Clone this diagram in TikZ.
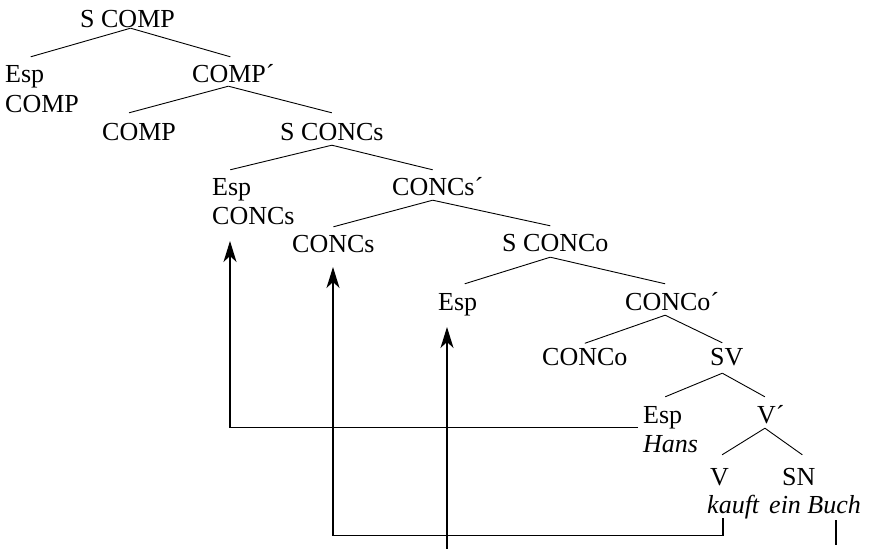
\documentclass[tikz,border=0pt]{standalone}
\usepackage{fontspec}
\setmainfont{Liberation Serif}
\usetikzlibrary{arrows.meta}
\begin{document}
\begin{tikzpicture}[x=1pt,y=-1pt,
  lbl/.style={anchor=base west, inner sep=0pt, text height=25pt, text depth=5pt,
              font=\fontsize{26}{30}\selectfont},
  word/.style={lbl, font=\fontsize{26}{30}\selectfont\itshape},
  branch/.style={line width=0.9pt},
  move/.style={line width=1.1pt, -{Stealth[length=21pt,width=13pt,inset=6pt]}},
  plain/.style={line width=1.1pt},
]
\useasboundingbox (0,0) rectangle (892,549);

% category labels
\node[lbl] (scomp)    at (80,27)   {S COMP};
\node[lbl] (espA)     at (5,82)    {Esp};
\node[lbl] (compA)    at (5,112)   {COMP};
\node[lbl] (compbar)  at (192,82)  {COMP´};
\node[lbl] (compB)    at (102,140) {COMP};
\node[lbl] (sconcs)   at (280,140) {S CONCs};
\node[lbl] (espB)     at (212,195) {Esp};
\node[lbl] (concsB)   at (212,224) {CONCs};
\node[lbl] (concsbar) at (392,195) {CONCs´};
\node[lbl] (concsC)   at (292,252) {CONCs};
\node[lbl] (sconco)   at (502,251) {S CONCo};
\node[lbl] (espC)     at (438,310) {Esp};
\node[lbl] (concobar) at (625,310) {CONCo´};
\node[lbl] (concoD)   at (542,365) {CONCo};
\node[lbl] (sv)       at (710,365) {SV};
\node[lbl] (espD)     at (643,423) {Esp};
\node[word] (hans)    at (643,452) {Hans};
\node[lbl] (vbar)     at (757,423) {V´};
\node[lbl] (v)        at (710,485) {V};
\node[lbl] (sn)       at (782,485) {SN};
\node[word] (kauft)   at (707,513) {kauft};
\node[word] (einbuch) at (769,513) {ein Buch};

% branches
\draw[branch] ([xshift=3pt,yshift=4pt]scomp.south) -- ([xshift=6pt]espA.north);
\draw[branch] ([xshift=3pt,yshift=4pt]scomp.south) -- ([xshift=-3pt]compbar.north);
\draw[branch] ([xshift=-5pt,yshift=1pt]compbar.south) -- ([xshift=-10pt,yshift=2pt]compB.north);
\draw[branch] ([xshift=-5pt,yshift=1pt]compbar.south) -- ([yshift=2pt]sconcs.north);
\draw[branch] (sconcs.south) -- ([xshift=-1.5pt]espB.north);
\draw[branch] (sconcs.south) -- ([xshift=-5pt]concsbar.north);
\draw[branch] ([xshift=-5pt]concsbar.south) -- (concsC.north);
\draw[branch] ([xshift=-5pt]concsbar.south) -- ([xshift=-5pt]sconco.north);
\draw[branch] ([xshift=-5pt,yshift=-1pt]sconco.south) -- ([xshift=7pt,yshift=1pt]espC.north);
\draw[branch] ([xshift=-5pt,yshift=-1pt]sconco.south) -- ([xshift=-7pt,yshift=1pt]concobar.north);
\draw[branch] ([xshift=-7pt]concobar.south) -- ([yshift=-3.5pt]concoD.north);
\draw[branch] ([xshift=-7pt]concobar.south) -- ([xshift=-4.5pt,yshift=-3pt]sv.north);
\draw[branch] ([xshift=-4.5pt,yshift=-3pt]sv.south) -- ([xshift=2.5pt,yshift=1pt]espD.north);
\draw[branch] ([xshift=-4.5pt,yshift=-3pt]sv.south) -- ([xshift=-6pt,yshift=1pt]vbar.north);
\draw[branch] ([xshift=-6pt]vbar.south) -- ([xshift=2.5pt,yshift=5pt]v.north);
\draw[branch] ([xshift=-6pt]vbar.south) -- ([xshift=3.5pt,yshift=5pt]sn.north);

% movement arrows
\coordinate (tipA) at (230,241);
\coordinate (tipB) at (333,267);
\coordinate (tipC) at (447,327);
\coordinate (tailC) at (447,549);
\draw[move] ([xshift=-5pt,yshift=-4.5pt]espD.base west) -| (tipA);
\draw[move] ([xshift=16pt,yshift=-5pt]kauft.base west) -- ++(0,17.5) -| (tipB);
\draw[move] (tailC) -- (tipC);
\draw[plain] ([xshift=67pt,yshift=-7pt]einbuch.base west) -- ++(0,25);
\end{tikzpicture}
\end{document}
